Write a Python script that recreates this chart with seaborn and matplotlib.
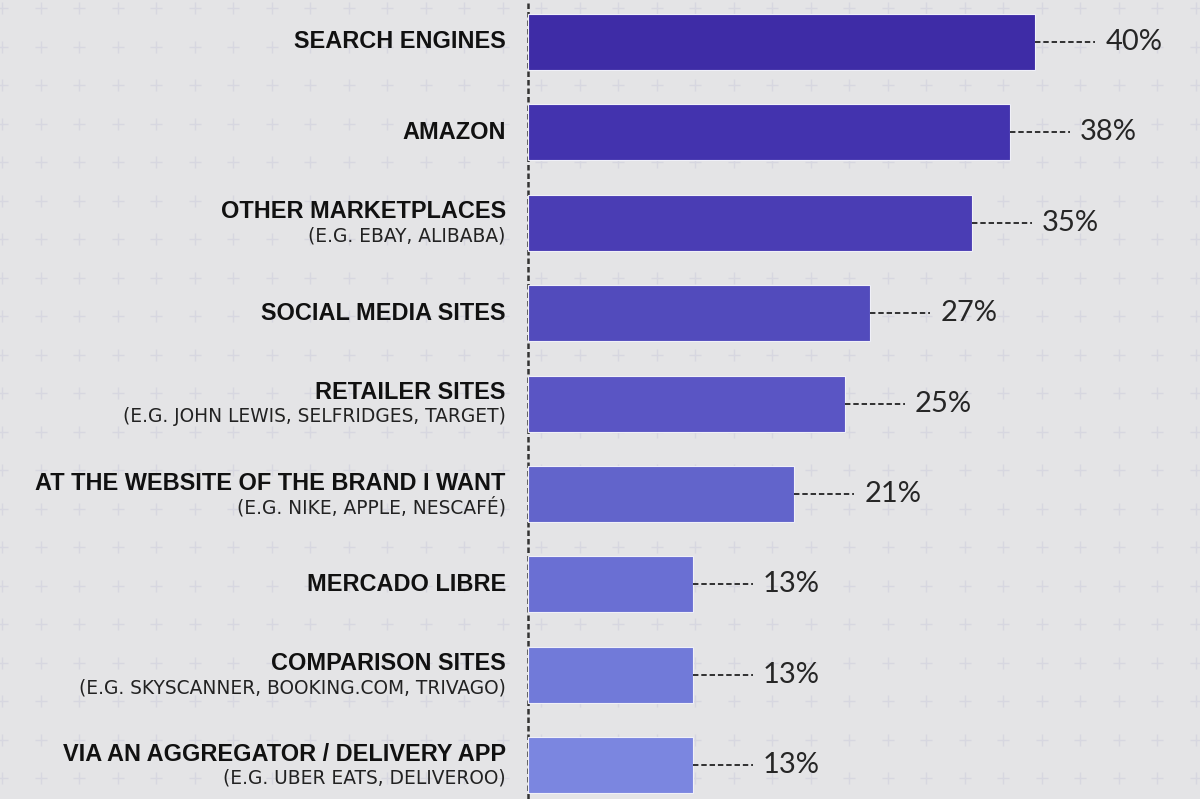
import numpy as np
import pandas as pd
import matplotlib
matplotlib.use('Agg')
import matplotlib.pyplot as plt
import seaborn as sns

# data
channels = ['SEARCH ENGINES', 'AMAZON', 'OTHER MARKETPLACES', 'SOCIAL MEDIA SITES',
            'RETAILER SITES', 'AT THE WEBSITE OF THE BRAND I WANT', 'MERCADO LIBRE',
            'COMPARISON SITES', 'VIA AN AGGREGATOR / DELIVERY APP']
examples = ['', '', '(E.G. EBAY, ALIBABA)', '',
            '(E.G. JOHN LEWIS, SELFRIDGES, TARGET)', '(E.G. NIKE, APPLE, NESCAFÉ)', '',
            '(E.G. SKYSCANNER, BOOKING.COM, TRIVAGO)', '(E.G. UBER EATS, DELIVEROO)']
share = [40, 38, 35, 27, 25, 21, 13, 13, 13]

bar_colors = ['#3e2ca6', '#4333ae', '#4a3db4', '#524bbc', '#5a55c4',
              '#6264cb', '#6a6fd3', '#717ad9', '#7b86e0']

df = pd.DataFrame({'channel': channels, 'share': share})

sns.set_style('white')
plt.rcParams['font.family'] = ['Liberation Sans', 'DejaVu Sans']

W, H = 1200, 799
fig = plt.figure(figsize=(12, 7.99), dpi=100)
fig.patch.set_facecolor('#e4e4e6')

# background plus pattern
bg = fig.add_axes([0, 0, 1, 1])
bg.set_xlim(0, W)
bg.set_ylim(H, 0)
bg.axis('off')
gx, gy = np.meshgrid(np.arange(2, W + 20, 38.5), np.arange(8, H + 20, 38.5))
bg.scatter(gx.ravel(), gy.ravel(), marker='+', s=65, color='#d7d7e0', linewidths=1.0)

ax = fig.add_axes([0, 0, 1, 1])
ax.patch.set_alpha(0)
px = 12.68  # pixels per percent
x0 = 528
ax.set_xlim(-x0 / px, (W - x0) / px)

sns.barplot(data=df, x='share', y='channel', hue='channel', palette=bar_colors,
            legend=False, orient='h', width=0.62, saturation=1, ax=ax,
            edgecolor='#f0f0f8', linewidth=0.8)

ax.set_ylim((H - 42) / 90.4, -42 / 90.4)
ax.axis('off')

ax.axvline(0, color='#333333', lw=1.8, ls=(0, (2.2, 1.2)), zorder=0)

for i, (name, ex, v) in enumerate(zip(channels, examples, share)):
    if ex:
        ax.annotate(name, (0, i), xytext=(-16, 7.9), textcoords='offset points',
                    ha='right', va='center', fontsize=16.9, fontweight='bold', color='#111111')
        ax.annotate(ex, (0, i), xytext=(-16, -9.4), textcoords='offset points',
                    ha='right', va='center', fontsize=13.4, color='#222222',
                    family=['DejaVu Sans'])
    else:
        ax.annotate(name, (0, i), xytext=(-16, 0), textcoords='offset points',
                    ha='right', va='center', fontsize=16.9, fontweight='bold', color='#111111')
    ax.plot([v, v + 60 / px], [i, i], color='#222222', lw=1.3, ls=(0, (3, 1.6)))
    ax.annotate(f'{v}%', (v + 70 / px, i), ha='left', va='center', fontsize=21,
                color='#262626', family=['Lato', 'DejaVu Sans'], fontweight='normal')

fig.savefig('out.png', dpi=100, facecolor=fig.get_facecolor())
